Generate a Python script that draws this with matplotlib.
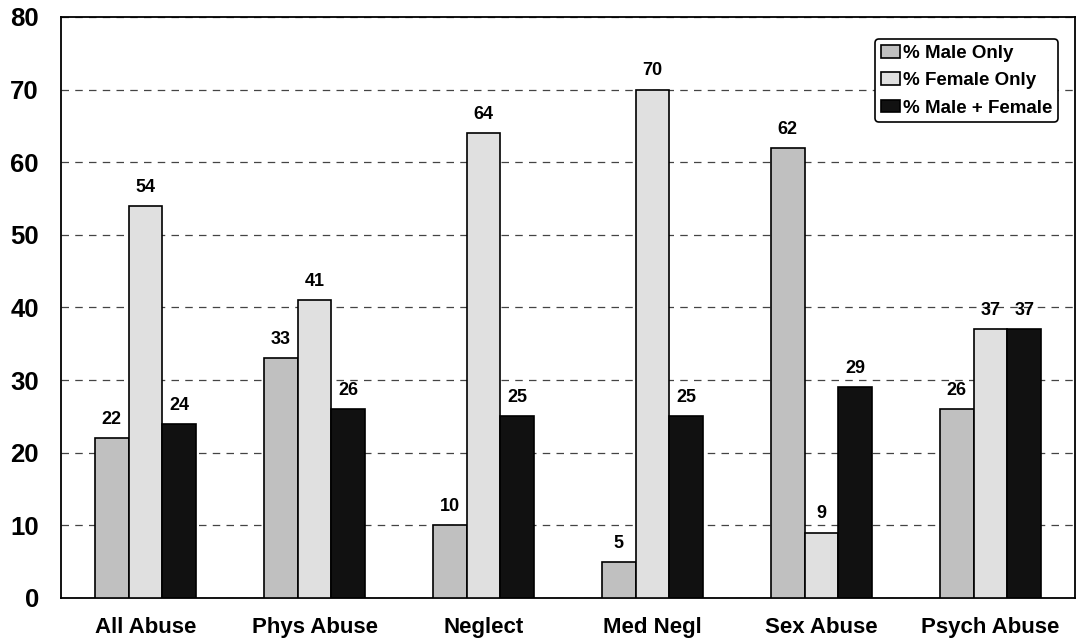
import matplotlib
matplotlib.use("Agg")
import matplotlib.pyplot as plt
import numpy as np

plt.rcParams['font.family'] = ['Liberation Sans', 'DejaVu Sans']
plt.rcParams['font.weight'] = 'bold'

# Données
categories = ["All Abuse", "Phys Abuse", "Neglect", "Med Negl", "Sex Abuse", "Psych Abuse"]
male_only = [22, 33, 10, 5, 62, 26]
female_only = [54, 41, 64, 70, 9, 37]
male_female = [24, 26, 25, 25, 29, 37]

series = [
    ("% Male Only", male_only, "#c0c0c0"),
    ("% Female Only", female_only, "#e0e0e0"),
    ("% Male + Female", male_female, "#111111"),
]

fig = plt.figure(figsize=(10.84, 6.43), dpi=100)
ax = fig.add_axes([0.0563, 0.07, 0.9354, 0.9036])

x = np.arange(len(categories))
width = 0.2
for i, (label, vals, color) in enumerate(series):
    pos = x + (i - 1) * width
    bars = ax.bar(pos, vals, width, color=color, edgecolor="black", linewidth=1.2,
                  label=label, zorder=3)
    for b, v in zip(bars, vals):
        ax.text(b.get_x() + b.get_width() / 2, v + 1.4, str(v), ha="center", va="bottom",
                fontsize=13, fontweight="bold")

ax.set_xlim(-0.5, len(categories) - 0.5)
ax.set_ylim(0, 80)
ax.set_yticks(range(0, 81, 10))
ax.set_xticks(x)
ax.set_xticklabels(categories, fontsize=16, fontweight="bold")
ax.tick_params(axis="y", length=0, labelsize=18.5, pad=16)
ax.tick_params(axis="x", length=0, pad=14)
for t in ax.get_yticklabels():
    t.set_fontweight("bold")

ax.yaxis.grid(True, linestyle=(0, (6, 5)), color="#444444", linewidth=0.9, zorder=0)
ax.set_axisbelow(True)
for s in ax.spines.values():
    s.set_linewidth(1.3)

leg = ax.legend(loc="upper right", bbox_to_anchor=(0.987, 0.968), fontsize=13.5,
                handlelength=1.05, handleheight=0.65, handletextpad=0.15, borderpad=0.3,
                labelspacing=0.55, fancybox=True, framealpha=1, edgecolor="black",
                borderaxespad=0.2)
leg.get_frame().set_linewidth(1.2)
for t in leg.get_texts():
    t.set_fontweight("bold")

fig.savefig("out.png", dpi=100)
